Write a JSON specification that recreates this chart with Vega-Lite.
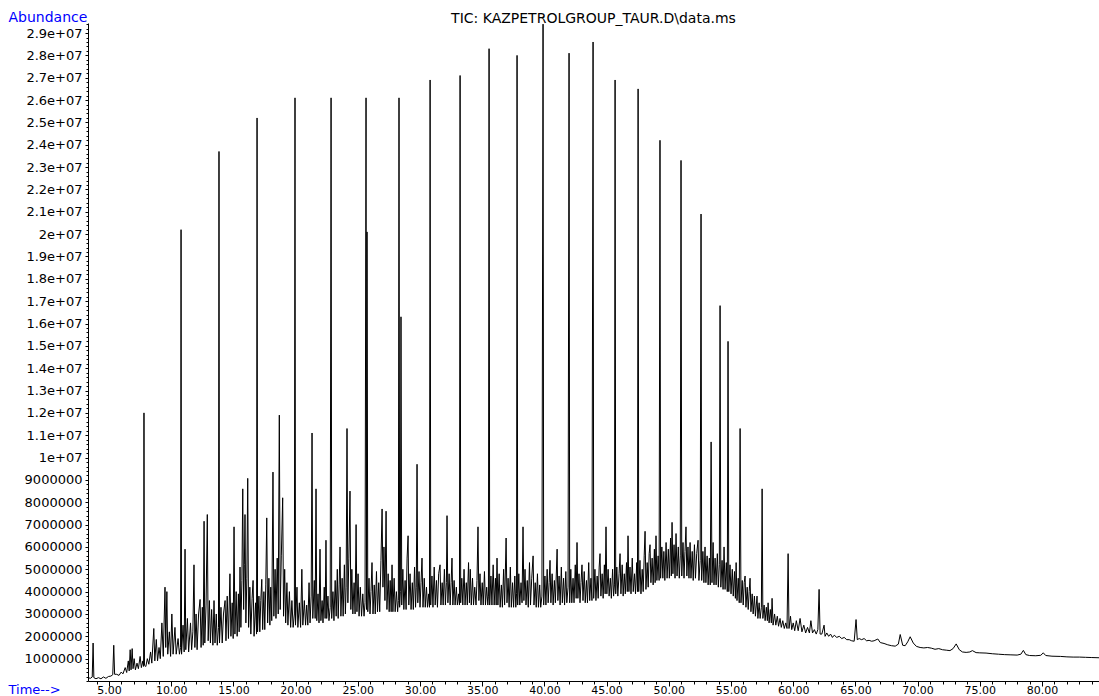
{
"$schema": "https://vega.github.io/schema/vega-lite/v6.json",
"width": 1011, "height": 658,
"autosize": {"type": "none"},
"padding": {"left": 88, "top": 23, "right": 0, "bottom": 15},
"background": "white",
"config": {"view": {"stroke": null}, "font": "DejaVu Sans"},
"title": {"text": "TIC: KAZPETROLGROUP_TAUR.D\\data.ms", "frame": "group", "anchor": "middle", "baseline": "alphabetic", "offset": 1, "dy": 28, "font": "DejaVu Sans", "fontSize": 14, "fontWeight": "normal", "color": "black"},
"data": {"values": [
{"t":3.31,"a":0.15e6},{"t":3.5,"a":0.12e6},{"t":3.65,"a":0.18e6},{"t":3.72,"a":1.7e6},{"t":3.78,"a":0.15e6},{"t":3.95,"a":0.1e6},{"t":4.15,"a":0.15e6},{"t":4.35,"a":0.1e6},{"t":4.55,"a":0.18e6},{"t":4.75,"a":0.12e6},{"t":4.95,"a":0.2e6},{"t":5.15,"a":0.22e6},{"t":5.3,"a":0.28e6},{"t":5.38,"a":1.6e6},{"t":5.45,"a":0.3e6},{"t":5.62,"a":0.3e6},{"t":5.8,"a":0.25e6},{"t":5.98,"a":0.4e6},{"t":6.12,"a":0.32e6},{"t":6.3,"a":0.6e6},{"t":6.42,"a":0.38e6},{"t":6.55,"a":0.9e6},{"t":6.62,"a":0.45e6},{"t":6.7,"a":1.4e6},{"t":6.77,"a":0.5e6},{"t":6.86,"a":1.45e6},{"t":6.93,"a":0.55e6},{"t":7.02,"a":1.0e6},{"t":7.12,"a":0.5e6},{"t":7.25,"a":0.8e6},{"t":7.36,"a":0.55e6},{"t":7.5,"a":1.1e6},{"t":7.6,"a":0.6e6},{"t":7.72,"a":0.9e6},{"t":7.78,"a":0.65e6},{"t":7.81,"a":12.0e6},{"t":7.85,"a":0.7e6},{"t":7.96,"a":0.65e6},{"t":8.08,"a":1.0e6},{"t":8.2,"a":0.75e6},{"t":8.34,"a":1.3e6},{"t":8.44,"a":0.8e6},{"t":8.6,"a":2.35e6},{"t":8.68,"a":0.9e6},{"t":8.8,"a":1.86e6},{"t":8.9,"a":0.9e6},{"t":9.02,"a":1.5e6},{"t":9.12,"a":1.0e6},{"t":9.25,"a":2.6e6},{"t":9.36,"a":1.1e6},{"t":9.5,"a":4.2e6},{"t":9.56,"a":1.5e6},{"t":9.65,"a":4.0e6},{"t":9.72,"a":1.2e6},{"t":9.85,"a":2.2e6},{"t":9.95,"a":1.1e6},{"t":10.05,"a":3.0e6},{"t":10.15,"a":1.2e6},{"t":10.3,"a":2.4e6},{"t":10.4,"a":1.2e6},{"t":10.55,"a":1.9e6},{"t":10.66,"a":1.2e6},{"t":10.75,"a":1.5e6},{"t":10.79,"a":20.2e6},{"t":10.83,"a":1.2e6},{"t":10.95,"a":2.5e6},{"t":11.04,"a":1.3e6},{"t":11.11,"a":5.9e6},{"t":11.17,"a":1.4e6},{"t":11.3,"a":2.8e6},{"t":11.4,"a":1.3e6},{"t":11.55,"a":2.6e6},{"t":11.64,"a":1.4e6},{"t":11.74,"a":2.2e6},{"t":11.83,"a":5.2e6},{"t":11.9,"a":1.5e6},{"t":12.0,"a":3.0e6},{"t":12.08,"a":1.4e6},{"t":12.2,"a":3.0e6},{"t":12.32,"a":3.65e6},{"t":12.4,"a":1.5e6},{"t":12.5,"a":3.3e6},{"t":12.57,"a":1.6e6},{"t":12.64,"a":7.15e6},{"t":12.7,"a":1.7e6},{"t":12.8,"a":3.4e6},{"t":12.9,"a":7.45e6},{"t":12.97,"a":1.8e6},{"t":13.07,"a":3.6e6},{"t":13.15,"a":1.7e6},{"t":13.25,"a":3.2e6},{"t":13.35,"a":1.6e6},{"t":13.44,"a":3.6e6},{"t":13.52,"a":1.7e6},{"t":13.62,"a":3.0e6},{"t":13.7,"a":1.6e6},{"t":13.8,"a":2.4e6},{"t":13.84,"a":23.7e6},{"t":13.88,"a":1.7e6},{"t":14.0,"a":3.3e6},{"t":14.1,"a":1.7e6},{"t":14.2,"a":3.0e6},{"t":14.33,"a":3.6e6},{"t":14.4,"a":1.8e6},{"t":14.5,"a":3.8e6},{"t":14.6,"a":1.9e6},{"t":14.72,"a":4.8e6},{"t":14.8,"a":2.0e6},{"t":14.9,"a":3.5e6},{"t":14.98,"a":1.9e6},{"t":15.05,"a":6.9e6},{"t":15.12,"a":2.1e6},{"t":15.22,"a":4.0e6},{"t":15.3,"a":2.0e6},{"t":15.4,"a":3.9e6},{"t":15.46,"a":2.2e6},{"t":15.53,"a":5.1e6},{"t":15.6,"a":2.4e6},{"t":15.68,"a":4.5e6},{"t":15.75,"a":8.6e6},{"t":15.82,"a":3.2e6},{"t":15.88,"a":5.2e6},{"t":15.93,"a":7.45e6},{"t":16.0,"a":2.6e6},{"t":16.08,"a":4.6e6},{"t":16.15,"a":9.07e6},{"t":16.22,"a":2.4e6},{"t":16.32,"a":4.2e6},{"t":16.4,"a":2.1e6},{"t":16.5,"a":3.7e6},{"t":16.58,"a":4.5e6},{"t":16.66,"a":2.0e6},{"t":16.78,"a":3.5e6},{"t":16.86,"a":2.1e6},{"t":16.9,"a":25.2e6},{"t":16.94,"a":2.2e6},{"t":17.05,"a":3.8e6},{"t":17.12,"a":2.2e6},{"t":17.2,"a":3.6e6},{"t":17.28,"a":4.55e6},{"t":17.35,"a":2.3e6},{"t":17.45,"a":4.0e6},{"t":17.52,"a":2.3e6},{"t":17.6,"a":4.3e6},{"t":17.68,"a":7.3e6},{"t":17.75,"a":2.6e6},{"t":17.85,"a":4.6e6},{"t":17.93,"a":2.5e6},{"t":18.0,"a":4.2e6},{"t":18.08,"a":2.7e6},{"t":18.18,"a":9.35e6},{"t":18.25,"a":2.9e6},{"t":18.35,"a":5.0e6},{"t":18.42,"a":2.8e6},{"t":18.52,"a":5.5e6},{"t":18.6,"a":3.0e6},{"t":18.69,"a":11.9e6},{"t":18.76,"a":3.2e6},{"t":18.85,"a":5.6e6},{"t":18.96,"a":8.2e6},{"t":19.03,"a":2.9e6},{"t":19.12,"a":5.0e6},{"t":19.2,"a":2.6e6},{"t":19.3,"a":4.4e6},{"t":19.38,"a":2.5e6},{"t":19.5,"a":4.0e6},{"t":19.6,"a":2.4e6},{"t":19.7,"a":3.6e6},{"t":19.8,"a":2.4e6},{"t":19.9,"a":3.0e6},{"t":19.95,"a":26.1e6},{"t":19.99,"a":2.5e6},{"t":20.11,"a":4.2e6},{"t":20.18,"a":2.4e6},{"t":20.3,"a":3.5e6},{"t":20.4,"a":2.4e6},{"t":20.5,"a":5.0e6},{"t":20.58,"a":2.5e6},{"t":20.7,"a":3.6e6},{"t":20.8,"a":2.5e6},{"t":20.89,"a":3.4e6},{"t":20.98,"a":2.5e6},{"t":21.08,"a":4.4e6},{"t":21.16,"a":2.6e6},{"t":21.25,"a":3.8e6},{"t":21.32,"a":11.1e6},{"t":21.38,"a":2.8e6},{"t":21.5,"a":4.5e6},{"t":21.57,"a":2.8e6},{"t":21.64,"a":8.6e6},{"t":21.7,"a":2.7e6},{"t":21.8,"a":3.9e6},{"t":21.88,"a":2.6e6},{"t":21.96,"a":5.9e6},{"t":22.03,"a":2.7e6},{"t":22.13,"a":3.6e6},{"t":22.2,"a":2.6e6},{"t":22.3,"a":4.2e6},{"t":22.37,"a":2.8e6},{"t":22.44,"a":6.3e6},{"t":22.5,"a":2.8e6},{"t":22.6,"a":3.8e6},{"t":22.68,"a":2.7e6},{"t":22.78,"a":3.3e6},{"t":22.85,"a":26.1e6},{"t":22.9,"a":2.8e6},{"t":23.0,"a":4.0e6},{"t":23.08,"a":2.7e6},{"t":23.18,"a":4.5e6},{"t":23.26,"a":2.9e6},{"t":23.35,"a":5.0e6},{"t":23.42,"a":2.8e6},{"t":23.5,"a":4.3e6},{"t":23.57,"a":6.0e6},{"t":23.64,"a":2.9e6},{"t":23.74,"a":4.6e6},{"t":23.82,"a":2.9e6},{"t":23.92,"a":5.2e6},{"t":24.0,"a":3.0e6},{"t":24.06,"a":4.2e6},{"t":24.13,"a":11.3e6},{"t":24.2,"a":3.5e6},{"t":24.28,"a":5.5e6},{"t":24.37,"a":8.5e6},{"t":24.44,"a":3.2e6},{"t":24.52,"a":5.0e6},{"t":24.6,"a":3.0e6},{"t":24.7,"a":4.4e6},{"t":24.78,"a":3.0e6},{"t":24.86,"a":7.0e6},{"t":24.93,"a":3.1e6},{"t":25.02,"a":4.8e6},{"t":25.1,"a":2.9e6},{"t":25.2,"a":4.2e6},{"t":25.3,"a":2.9e6},{"t":25.4,"a":3.9e6},{"t":25.5,"a":2.9e6},{"t":25.58,"a":3.5e6},{"t":25.66,"a":26.1e6},{"t":25.7,"a":3.2e6},{"t":25.74,"a":20.1e6},{"t":25.8,"a":3.1e6},{"t":25.9,"a":4.6e6},{"t":25.98,"a":3.0e6},{"t":26.06,"a":4.0e6},{"t":26.14,"a":5.3e6},{"t":26.22,"a":3.0e6},{"t":26.32,"a":4.3e6},{"t":26.4,"a":3.0e6},{"t":26.5,"a":4.9e6},{"t":26.58,"a":3.1e6},{"t":26.68,"a":4.4e6},{"t":26.76,"a":3.1e6},{"t":26.86,"a":5.4e6},{"t":26.95,"a":7.7e6},{"t":27.02,"a":4.2e6},{"t":27.1,"a":6.0e6},{"t":27.18,"a":3.6e6},{"t":27.27,"a":7.6e6},{"t":27.34,"a":3.2e6},{"t":27.44,"a":4.8e6},{"t":27.52,"a":3.1e6},{"t":27.6,"a":4.5e6},{"t":27.68,"a":3.1e6},{"t":27.75,"a":5.2e6},{"t":27.82,"a":3.1e6},{"t":27.92,"a":4.6e6},{"t":28.0,"a":3.1e6},{"t":28.1,"a":4.0e6},{"t":28.2,"a":3.1e6},{"t":28.26,"a":3.6e6},{"t":28.31,"a":26.1e6},{"t":28.36,"a":3.3e6},{"t":28.42,"a":4.0e6},{"t":28.47,"a":16.3e6},{"t":28.53,"a":3.4e6},{"t":28.62,"a":5.0e6},{"t":28.7,"a":3.2e6},{"t":28.8,"a":4.5e6},{"t":28.88,"a":3.2e6},{"t":28.96,"a":5.5e6},{"t":29.04,"a":6.5e6},{"t":29.1,"a":3.4e6},{"t":29.2,"a":4.8e6},{"t":29.28,"a":3.2e6},{"t":29.38,"a":4.4e6},{"t":29.46,"a":3.2e6},{"t":29.56,"a":5.1e6},{"t":29.64,"a":3.3e6},{"t":29.7,"a":4.2e6},{"t":29.76,"a":9.7e6},{"t":29.82,"a":3.5e6},{"t":29.92,"a":4.9e6},{"t":30.0,"a":3.3e6},{"t":30.08,"a":4.4e6},{"t":30.16,"a":5.5e6},{"t":30.24,"a":3.3e6},{"t":30.34,"a":4.6e6},{"t":30.42,"a":3.3e6},{"t":30.52,"a":4.2e6},{"t":30.6,"a":3.3e6},{"t":30.7,"a":3.9e6},{"t":30.76,"a":3.3e6},{"t":30.81,"a":26.9e6},{"t":30.86,"a":3.4e6},{"t":30.96,"a":4.7e6},{"t":31.04,"a":3.3e6},{"t":31.14,"a":5.1e6},{"t":31.22,"a":3.4e6},{"t":31.32,"a":4.5e6},{"t":31.4,"a":3.3e6},{"t":31.5,"a":4.8e6},{"t":31.61,"a":5.2e6},{"t":31.68,"a":3.4e6},{"t":31.78,"a":4.4e6},{"t":31.86,"a":3.4e6},{"t":31.96,"a":5.0e6},{"t":32.04,"a":3.4e6},{"t":32.12,"a":4.4e6},{"t":32.17,"a":7.4e6},{"t":32.24,"a":3.5e6},{"t":32.34,"a":4.8e6},{"t":32.42,"a":3.4e6},{"t":32.5,"a":4.4e6},{"t":32.57,"a":5.5e6},{"t":32.64,"a":3.4e6},{"t":32.74,"a":4.5e6},{"t":32.82,"a":3.4e6},{"t":32.92,"a":4.2e6},{"t":33.0,"a":3.4e6},{"t":33.1,"a":3.9e6},{"t":33.17,"a":3.4e6},{"t":33.22,"a":27.1e6},{"t":33.27,"a":3.5e6},{"t":33.36,"a":4.6e6},{"t":33.44,"a":3.4e6},{"t":33.54,"a":5.0e6},{"t":33.62,"a":3.4e6},{"t":33.72,"a":4.4e6},{"t":33.8,"a":3.4e6},{"t":33.9,"a":5.3e6},{"t":33.97,"a":3.5e6},{"t":34.04,"a":5.0e6},{"t":34.12,"a":3.4e6},{"t":34.22,"a":4.6e6},{"t":34.3,"a":3.4e6},{"t":34.4,"a":4.2e6},{"t":34.5,"a":3.4e6},{"t":34.58,"a":4.5e6},{"t":34.66,"a":6.9e6},{"t":34.73,"a":3.6e6},{"t":34.82,"a":4.8e6},{"t":34.9,"a":3.4e6},{"t":35.0,"a":4.4e6},{"t":35.08,"a":3.4e6},{"t":35.18,"a":4.9e6},{"t":35.26,"a":3.4e6},{"t":35.36,"a":4.2e6},{"t":35.45,"a":3.4e6},{"t":35.5,"a":3.8e6},{"t":35.55,"a":28.3e6},{"t":35.6,"a":3.4e6},{"t":35.7,"a":4.7e6},{"t":35.78,"a":3.4e6},{"t":35.88,"a":5.2e6},{"t":35.96,"a":3.4e6},{"t":36.06,"a":4.6e6},{"t":36.12,"a":3.4e6},{"t":36.19,"a":5.5e6},{"t":36.26,"a":3.4e6},{"t":36.36,"a":4.8e6},{"t":36.44,"a":3.3e6},{"t":36.54,"a":4.3e6},{"t":36.62,"a":3.3e6},{"t":36.72,"a":5.0e6},{"t":36.8,"a":3.4e6},{"t":36.92,"a":6.4e6},{"t":36.99,"a":3.5e6},{"t":37.08,"a":4.6e6},{"t":37.16,"a":3.3e6},{"t":37.26,"a":5.1e6},{"t":37.34,"a":3.3e6},{"t":37.44,"a":4.4e6},{"t":37.52,"a":3.3e6},{"t":37.62,"a":4.7e6},{"t":37.7,"a":3.3e6},{"t":37.76,"a":3.9e6},{"t":37.8,"a":28.0e6},{"t":37.85,"a":3.4e6},{"t":37.94,"a":4.8e6},{"t":38.02,"a":3.4e6},{"t":38.12,"a":4.4e6},{"t":38.2,"a":3.5e6},{"t":38.28,"a":6.9e6},{"t":38.35,"a":3.6e6},{"t":38.44,"a":5.0e6},{"t":38.52,"a":3.4e6},{"t":38.62,"a":4.5e6},{"t":38.7,"a":3.3e6},{"t":38.8,"a":5.3e6},{"t":38.88,"a":3.4e6},{"t":38.98,"a":4.6e6},{"t":39.09,"a":5.6e6},{"t":39.16,"a":3.4e6},{"t":39.26,"a":4.4e6},{"t":39.34,"a":3.3e6},{"t":39.44,"a":4.8e6},{"t":39.52,"a":3.3e6},{"t":39.62,"a":4.3e6},{"t":39.7,"a":3.3e6},{"t":39.8,"a":3.8e6},{"t":39.89,"a":29.4e6},{"t":39.94,"a":3.4e6},{"t":40.04,"a":4.7e6},{"t":40.12,"a":3.4e6},{"t":40.22,"a":5.0e6},{"t":40.3,"a":3.5e6},{"t":40.38,"a":4.4e6},{"t":40.45,"a":5.4e6},{"t":40.52,"a":3.5e6},{"t":40.62,"a":4.8e6},{"t":40.7,"a":3.4e6},{"t":40.8,"a":4.5e6},{"t":40.88,"a":3.5e6},{"t":41.02,"a":5.9e6},{"t":41.08,"a":3.6e6},{"t":41.18,"a":4.7e6},{"t":41.26,"a":3.4e6},{"t":41.36,"a":5.1e6},{"t":41.44,"a":3.5e6},{"t":41.54,"a":4.6e6},{"t":41.62,"a":3.4e6},{"t":41.72,"a":4.9e6},{"t":41.8,"a":3.5e6},{"t":41.9,"a":4.2e6},{"t":41.98,"a":28.1e6},{"t":42.03,"a":3.5e6},{"t":42.12,"a":5.0e6},{"t":42.2,"a":3.5e6},{"t":42.3,"a":4.6e6},{"t":42.38,"a":3.5e6},{"t":42.48,"a":5.2e6},{"t":42.55,"a":3.7e6},{"t":42.62,"a":6.2e6},{"t":42.69,"a":3.7e6},{"t":42.78,"a":4.8e6},{"t":42.86,"a":3.5e6},{"t":42.94,"a":4.4e6},{"t":43.02,"a":5.2e6},{"t":43.1,"a":3.6e6},{"t":43.2,"a":4.9e6},{"t":43.28,"a":3.5e6},{"t":43.38,"a":4.5e6},{"t":43.46,"a":3.5e6},{"t":43.56,"a":5.3e6},{"t":43.64,"a":3.6e6},{"t":43.74,"a":4.6e6},{"t":43.82,"a":3.6e6},{"t":43.91,"a":28.6e6},{"t":43.96,"a":3.7e6},{"t":44.06,"a":5.0e6},{"t":44.14,"a":3.6e6},{"t":44.24,"a":4.7e6},{"t":44.32,"a":3.7e6},{"t":44.4,"a":5.1e6},{"t":44.47,"a":5.7e6},{"t":44.54,"a":3.8e6},{"t":44.64,"a":4.8e6},{"t":44.72,"a":3.7e6},{"t":44.82,"a":5.2e6},{"t":44.88,"a":3.9e6},{"t":44.95,"a":6.9e6},{"t":45.02,"a":3.9e6},{"t":45.12,"a":5.0e6},{"t":45.2,"a":3.8e6},{"t":45.3,"a":4.6e6},{"t":45.38,"a":3.7e6},{"t":45.48,"a":5.0e6},{"t":45.56,"a":3.8e6},{"t":45.63,"a":4.3e6},{"t":45.68,"a":26.9e6},{"t":45.73,"a":3.9e6},{"t":45.82,"a":5.1e6},{"t":45.9,"a":3.8e6},{"t":46.0,"a":4.8e6},{"t":46.08,"a":5.7e6},{"t":46.15,"a":3.9e6},{"t":46.25,"a":5.2e6},{"t":46.33,"a":3.8e6},{"t":46.42,"a":4.8e6},{"t":46.5,"a":3.9e6},{"t":46.6,"a":5.3e6},{"t":46.66,"a":4.0e6},{"t":46.72,"a":6.5e6},{"t":46.79,"a":4.0e6},{"t":46.88,"a":5.1e6},{"t":46.96,"a":3.9e6},{"t":47.06,"a":5.5e6},{"t":47.14,"a":4.0e6},{"t":47.24,"a":4.8e6},{"t":47.32,"a":3.9e6},{"t":47.42,"a":5.3e6},{"t":47.48,"a":4.0e6},{"t":47.53,"a":26.5e6},{"t":47.58,"a":4.0e6},{"t":47.68,"a":5.4e6},{"t":47.76,"a":3.9e6},{"t":47.86,"a":5.0e6},{"t":47.94,"a":4.0e6},{"t":48.02,"a":5.6e6},{"t":48.09,"a":6.7e6},{"t":48.16,"a":4.1e6},{"t":48.26,"a":5.3e6},{"t":48.34,"a":4.2e6},{"t":48.42,"a":5.7e6},{"t":48.49,"a":6.1e6},{"t":48.56,"a":4.4e6},{"t":48.66,"a":5.5e6},{"t":48.74,"a":4.3e6},{"t":48.84,"a":5.9e6},{"t":48.9,"a":4.4e6},{"t":48.97,"a":6.5e6},{"t":49.04,"a":4.5e6},{"t":49.14,"a":5.6e6},{"t":49.22,"a":4.5e6},{"t":49.29,"a":24.2e6},{"t":49.34,"a":4.6e6},{"t":49.44,"a":6.0e6},{"t":49.52,"a":4.6e6},{"t":49.6,"a":5.8e6},{"t":49.68,"a":4.5e6},{"t":49.78,"a":6.2e6},{"t":49.86,"a":4.6e6},{"t":49.96,"a":5.9e6},{"t":50.04,"a":4.6e6},{"t":50.14,"a":6.4e6},{"t":50.2,"a":4.7e6},{"t":50.26,"a":7.1e6},{"t":50.33,"a":4.8e6},{"t":50.42,"a":6.1e6},{"t":50.5,"a":4.6e6},{"t":50.58,"a":6.6e6},{"t":50.66,"a":4.7e6},{"t":50.76,"a":6.0e6},{"t":50.84,"a":4.6e6},{"t":50.92,"a":5.6e6},{"t":50.98,"a":23.3e6},{"t":51.04,"a":4.7e6},{"t":51.14,"a":6.2e6},{"t":51.22,"a":4.6e6},{"t":51.3,"a":5.8e6},{"t":51.38,"a":6.9e6},{"t":51.45,"a":4.7e6},{"t":51.54,"a":6.0e6},{"t":51.62,"a":4.6e6},{"t":51.71,"a":6.2e6},{"t":51.78,"a":4.6e6},{"t":51.88,"a":5.8e6},{"t":51.96,"a":4.5e6},{"t":52.06,"a":6.1e6},{"t":52.14,"a":4.6e6},{"t":52.24,"a":5.7e6},{"t":52.35,"a":6.3e6},{"t":52.42,"a":4.5e6},{"t":52.52,"a":5.4e6},{"t":52.59,"a":20.9e6},{"t":52.64,"a":4.5e6},{"t":52.74,"a":5.8e6},{"t":52.82,"a":4.4e6},{"t":52.91,"a":6.0e6},{"t":52.98,"a":4.4e6},{"t":53.08,"a":5.6e6},{"t":53.16,"a":4.3e6},{"t":53.26,"a":5.5e6},{"t":53.33,"a":4.3e6},{"t":53.4,"a":10.7e6},{"t":53.47,"a":4.4e6},{"t":53.56,"a":6.2e6},{"t":53.63,"a":4.3e6},{"t":53.72,"a":5.5e6},{"t":53.8,"a":4.3e6},{"t":53.9,"a":5.7e6},{"t":53.98,"a":4.2e6},{"t":54.06,"a":5.2e6},{"t":54.12,"a":16.8e6},{"t":54.18,"a":4.2e6},{"t":54.28,"a":5.4e6},{"t":54.36,"a":4.1e6},{"t":54.44,"a":6.0e6},{"t":54.52,"a":4.1e6},{"t":54.62,"a":5.3e6},{"t":54.7,"a":4.0e6},{"t":54.76,"a":15.2e6},{"t":54.82,"a":4.0e6},{"t":54.92,"a":5.2e6},{"t":55.0,"a":3.9e6},{"t":55.1,"a":5.0e6},{"t":55.18,"a":3.8e6},{"t":55.28,"a":4.9e6},{"t":55.35,"a":3.7e6},{"t":55.41,"a":5.3e6},{"t":55.48,"a":3.6e6},{"t":55.58,"a":4.6e6},{"t":55.66,"a":3.5e6},{"t":55.73,"a":11.3e6},{"t":55.8,"a":3.5e6},{"t":55.9,"a":4.5e6},{"t":55.98,"a":3.4e6},{"t":56.06,"a":4.4e6},{"t":56.13,"a":4.7e6},{"t":56.2,"a":3.3e6},{"t":56.3,"a":4.2e6},{"t":56.38,"a":3.2e6},{"t":56.46,"a":4.0e6},{"t":56.53,"a":4.6e6},{"t":56.6,"a":3.1e6},{"t":56.7,"a":3.9e6},{"t":56.78,"a":3.0e6},{"t":56.88,"a":3.8e6},{"t":56.96,"a":2.9e6},{"t":57.09,"a":3.8e6},{"t":57.16,"a":2.8e6},{"t":57.26,"a":3.5e6},{"t":57.34,"a":2.8e6},{"t":57.44,"a":3.3e6},{"t":57.5,"a":8.6e6},{"t":57.56,"a":2.8e6},{"t":57.66,"a":3.4e6},{"t":57.74,"a":2.7e6},{"t":57.84,"a":3.3e6},{"t":57.92,"a":2.7e6},{"t":57.98,"a":3.5e6},{"t":58.06,"a":2.6e6},{"t":58.16,"a":3.2e6},{"t":58.24,"a":2.6e6},{"t":58.3,"a":3.7e6},{"t":58.38,"a":2.5e6},{"t":58.5,"a":3.0e6},{"t":58.6,"a":2.5e6},{"t":58.72,"a":2.9e6},{"t":58.82,"a":2.45e6},{"t":58.94,"a":2.8e6},{"t":59.04,"a":2.4e6},{"t":59.16,"a":2.7e6},{"t":59.28,"a":2.35e6},{"t":59.4,"a":2.6e6},{"t":59.5,"a":2.35e6},{"t":59.59,"a":5.7e6},{"t":59.66,"a":2.35e6},{"t":59.78,"a":2.9e6},{"t":59.88,"a":2.3e6},{"t":60.0,"a":2.6e6},{"t":60.12,"a":2.25e6},{"t":60.25,"a":2.7e6},{"t":60.4,"a":2.25e6},{"t":60.55,"a":2.8e6},{"t":60.7,"a":2.2e6},{"t":60.85,"a":2.5e6},{"t":61.0,"a":2.15e6},{"t":61.15,"a":2.4e6},{"t":61.3,"a":2.15e6},{"t":61.42,"a":2.7e6},{"t":61.55,"a":2.15e6},{"t":61.7,"a":2.3e6},{"t":61.85,"a":2.1e6},{"t":61.98,"a":2.3e6},{"t":62.08,"a":4.1e6},{"t":62.16,"a":2.1e6},{"t":62.3,"a":2.1e6},{"t":62.48,"a":2.5e6},{"t":62.56,"a":2.0e6},{"t":62.7,"a":2.15e6},{"t":62.85,"a":2.0e6},{"t":63.0,"a":2.1e6},{"t":63.15,"a":1.95e6},{"t":63.3,"a":2.05e6},{"t":63.5,"a":1.95e6},{"t":63.7,"a":2.0e6},{"t":63.9,"a":1.9e6},{"t":64.1,"a":1.95e6},{"t":64.3,"a":1.85e6},{"t":64.5,"a":1.85e6},{"t":64.7,"a":1.8e6},{"t":64.9,"a":1.78e6},{"t":65.05,"a":2.75e6},{"t":65.15,"a":1.85e6},{"t":65.3,"a":1.9e6},{"t":65.5,"a":1.85e6},{"t":65.7,"a":1.9e6},{"t":65.9,"a":1.8e6},{"t":66.1,"a":1.82e6},{"t":66.3,"a":1.78e6},{"t":66.5,"a":1.8e6},{"t":66.8,"a":1.88e6},{"t":67.0,"a":1.72e6},{"t":67.3,"a":1.68e6},{"t":67.6,"a":1.62e6},{"t":67.9,"a":1.58e6},{"t":68.2,"a":1.56e6},{"t":68.45,"a":1.65e6},{"t":68.6,"a":2.08e6},{"t":68.8,"a":1.6e6},{"t":69.0,"a":1.58e6},{"t":69.2,"a":1.75e6},{"t":69.4,"a":1.98e6},{"t":69.65,"a":1.7e6},{"t":69.9,"a":1.55e6},{"t":70.2,"a":1.5e6},{"t":70.5,"a":1.48e6},{"t":70.8,"a":1.5e6},{"t":71.1,"a":1.47e6},{"t":71.4,"a":1.42e6},{"t":71.7,"a":1.45e6},{"t":72.0,"a":1.4e6},{"t":72.3,"a":1.38e6},{"t":72.6,"a":1.36e6},{"t":72.85,"a":1.45e6},{"t":73.1,"a":1.66e6},{"t":73.35,"a":1.4e6},{"t":73.6,"a":1.3e6},{"t":73.9,"a":1.28e6},{"t":74.2,"a":1.3e6},{"t":74.4,"a":1.36e6},{"t":74.7,"a":1.27e6},{"t":75.0,"a":1.26e6},{"t":75.5,"a":1.25e6},{"t":76.0,"a":1.22e6},{"t":76.5,"a":1.2e6},{"t":77.0,"a":1.18e6},{"t":77.5,"a":1.17e6},{"t":78.0,"a":1.16e6},{"t":78.3,"a":1.2e6},{"t":78.5,"a":1.37e6},{"t":78.7,"a":1.18e6},{"t":79.0,"a":1.14e6},{"t":79.5,"a":1.13e6},{"t":79.9,"a":1.15e6},{"t":80.1,"a":1.26e6},{"t":80.3,"a":1.14e6},{"t":80.8,"a":1.11e6},{"t":81.5,"a":1.1e6},{"t":82.0,"a":1.08e6},{"t":82.5,"a":1.07e6},{"t":83.0,"a":1.07e6},{"t":83.5,"a":1.06e6},{"t":84.0,"a":1.05e6},{"t":84.58,"a":1.04e6}
]},
"layer": [
{"mark": {"type": "line", "color": "black", "strokeWidth": 1, "clip": true},
 "encoding": {
  "x": {"field": "t", "type": "quantitative", "scale": {"domain": [3.31, 84.58], "nice": false, "zero": false},
   "axis": {"orient": "bottom", "values": [5,10,15,20,25,30,35,40,45,50,55,60,65,70,75,80], "format": ".2f", "grid": false, "labelFont": "DejaVu Sans", "labelFontSize": 11, "labelColor": "black", "labelBaseline": "alphabetic", "tickSize": 5, "tickColor": "black", "domainColor": "black", "labelPadding": 7, "labelOverlap": false, "labelFlush": false,
    "title": "Time-->", "titleX": -80, "titleY": 12, "titleAlign": "left", "titleBaseline": "alphabetic", "titleColor": "#0000FF", "titleFont": "DejaVu Sans", "titleFontSize": 13, "titleFontWeight": "normal"}},
  "y": {"field": "a", "type": "quantitative", "scale": {"domain": [0, 29450000], "nice": false, "zero": true},
   "axis": {"orient": "left", "values": [1e6,2e6,3e6,4e6,5e6,6e6,7e6,8e6,9e6,1e7,1.1e7,1.2e7,1.3e7,1.4e7,1.5e7,1.6e7,1.7e7,1.8e7,1.9e7,2e7,2.1e7,2.2e7,2.3e7,2.4e7,2.5e7,2.6e7,2.7e7,2.8e7,2.9e7],
    "labelExpr": "datum.value >= 1e7 ? format(datum.value/1e7, '') + 'e+07' : format(datum.value, 'd')",
    "grid": false, "labelFont": "DejaVu Sans", "labelFontSize": 13, "labelColor": "black", "labelAlign": "right", "labelBaseline": "middle", "tickSize": 3, "tickColor": "black", "domainColor": "black", "labelPadding": 3, "labelOverlap": false, "labelFlush": false,
    "title": "Abundance", "titleAngle": 0, "titleX": -80, "titleY": -2, "titleAlign": "left", "titleBaseline": "alphabetic", "titleColor": "#0000FF", "titleFont": "DejaVu Sans", "titleFontSize": 14, "titleFontWeight": "normal"}}
 }},
{"mark": {"type": "line", "opacity": 0, "clip": true},
 "encoding": {
  "x": {"field": "t", "type": "quantitative", "axis": {"orient": "bottom", "tickCount": 81, "labels": false, "domain": false, "grid": false, "tickSize": 3, "tickColor": "black", "title": null}},
  "y": {"field": "a", "type": "quantitative", "axis": {"orient": "left", "tickCount": 145, "labels": false, "domain": false, "grid": false, "tickSize": 2, "tickColor": "black", "title": null}}
 }}
],
"resolve": {"axis": {"x": "independent", "y": "independent"}}
}
